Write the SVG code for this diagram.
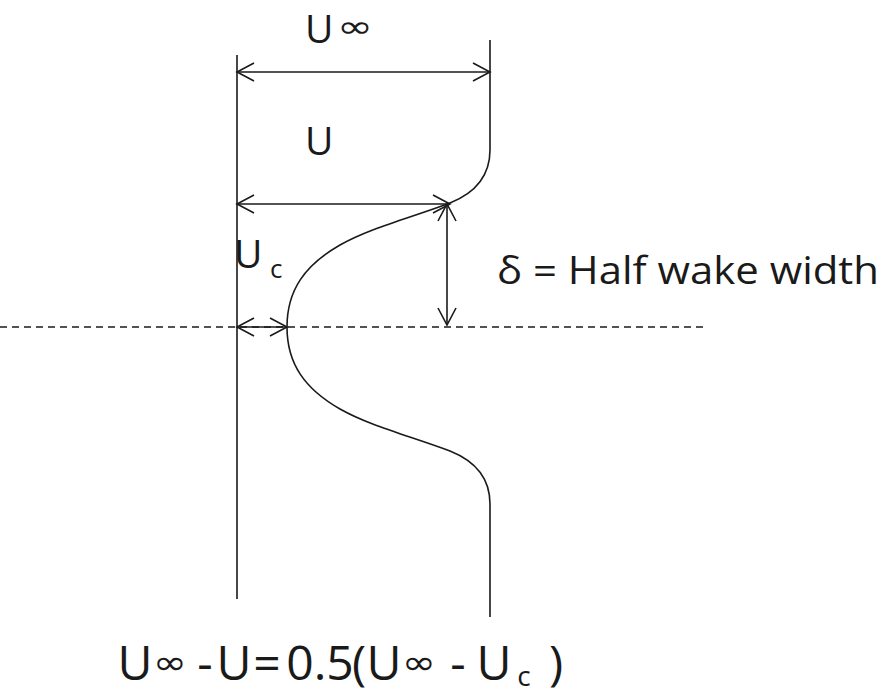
<svg xmlns="http://www.w3.org/2000/svg" width="887" height="694" viewBox="0 0 887 694">
<style>
.ln{stroke:#1a1a1a;stroke-width:1.6;fill:none}
.ar{marker-start:url(#ah);marker-end:url(#ah)}
.t{font-family:"Open Sans","Liberation Sans",sans-serif;fill:#1a1a1a}
.e{font-family:"Open Sans","Liberation Sans",sans-serif;fill:#1a1a1a;font-size:48px;text-anchor:middle}
.inf{font-family:"DejaVu Sans",sans-serif;fill:#1a1a1a}
</style>
<defs>
<marker id="ah" viewBox="-20 -10 22 20" refX="0" refY="0" markerWidth="22" markerHeight="20" markerUnits="userSpaceOnUse" orient="auto-start-reverse">
<path d="M-17,-9 L0,0 L-17,9" fill="none" stroke="#1a1a1a" stroke-width="1.6"/>
</marker>
</defs>
<rect width="887" height="694" fill="#fff"/>
<g id="axis">
<line class="ln" x1="237" y1="55" x2="237" y2="599"/>
<line x1="0" y1="327" x2="705" y2="327" stroke="#1a1a1a" stroke-width="1.4" stroke-dasharray="7,5"/>
</g>
<g id="profile">
<path class="ln" d="M490,40 L490,150 C490,180 470,195 450,203 C410,218 370,228 340,245 C305,265 287,290 287,327 C287,364 305,389 340,409 C370,426 410,436 450,451 C470,459 490,474 490,504 L490,617"/>
</g>
<g id="connectors">
<line class="ln ar" x1="237" y1="72" x2="490" y2="72"/>
<line class="ln ar" x1="237" y1="204" x2="450" y2="204"/>
<line class="ln ar" x1="447" y1="204" x2="447" y2="325"/>
<line class="ln ar" x1="237" y1="327" x2="287" y2="327"/>
</g>
<g id="label-uinf">
<text class="t" x="305" y="43" font-size="39">U</text>
<text class="inf" x="337" y="37" font-size="30" textLength="36" lengthAdjust="spacingAndGlyphs">∞</text>
</g>
<g id="label-u">
<text class="t" x="305" y="155" font-size="39">U</text>
</g>
<g id="label-uc">
<text class="t" x="234" y="268" font-size="39">U</text>
<text class="t" x="270" y="278" font-size="26">c</text>
</g>
<g id="label-delta">
<text class="t" x="497" y="284" font-size="39" textLength="382" lengthAdjust="spacingAndGlyphs">δ = Half wake width</text>
</g>
<g id="equation">
<text class="e" x="135" y="680">U</text>
<text class="inf" x="153" y="674" font-size="34" textLength="34" lengthAdjust="spacingAndGlyphs">∞</text>
<text class="e" x="205" y="680">-</text>
<text class="e" x="234" y="680">U</text>
<text class="e" x="267" y="680">=</text>
<text class="e" x="300" y="680">0</text>
<text class="e" x="320" y="680">.</text>
<text class="e" x="340" y="680">5</text>
<text class="e" x="359" y="680">(</text>
<text class="e" x="384" y="680">U</text>
<text class="inf" x="402" y="674" font-size="34" textLength="34" lengthAdjust="spacingAndGlyphs">∞</text>
<text class="e" x="458" y="680">-</text>
<text class="e" x="494" y="680">U</text>
<text class="t" x="524" y="686" font-size="28" text-anchor="middle">c</text>
<text class="e" x="556" y="680">)</text>
</g>
</svg>
